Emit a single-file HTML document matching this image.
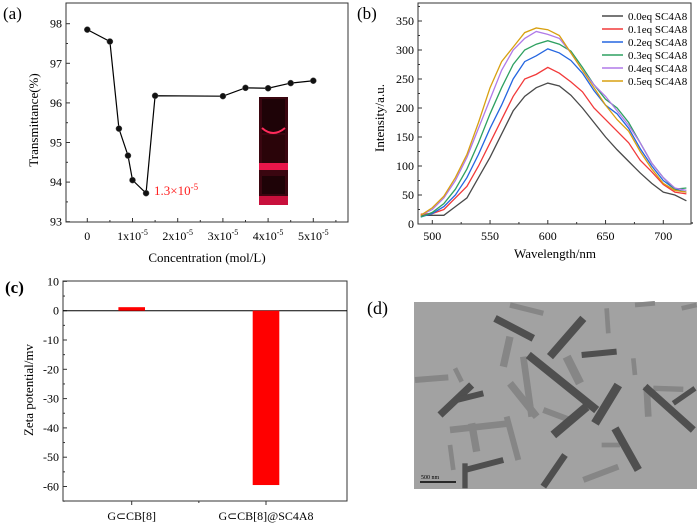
<!DOCTYPE html>
<html><head><meta charset="utf-8"><style>
body{margin:0;background:#fff;}
svg{display:block;font-family:"Liberation Serif",serif;}
</style></head><body>
<svg width="700" height="530" viewBox="0 0 700 530">
<g id="pa"></g>
<g id="pb"></g>
<g id="pc"></g>
<g id="pd">
  <text x="367" y="314" font-size="18">(d)</text>
  <rect x="414" y="302" width="283" height="187" fill="#a2a2a2"/>
  <g transform="translate(400,270) scale(0.3333)" stroke-linecap="butt" fill="none">
    <g stroke="#868686">
      <line x1="330" y1="105" x2="430" y2="130" stroke-width="16"/>
      <line x1="45" y1="330" x2="145" y2="322" stroke-width="18"/>
      <line x1="150" y1="480" x2="330" y2="460" stroke-width="20"/>
      <line x1="320" y1="440" x2="355" y2="570" stroke-width="18"/>
      <line x1="215" y1="460" x2="230" y2="545" stroke-width="22"/>
      <line x1="330" y1="200" x2="310" y2="290" stroke-width="22"/>
      <line x1="330" y1="340" x2="410" y2="440" stroke-width="22"/>
      <line x1="430" y1="420" x2="510" y2="450" stroke-width="18"/>
      <line x1="500" y1="260" x2="540" y2="340" stroke-width="26"/>
      <line x1="620" y1="115" x2="625" y2="190" stroke-width="14"/>
      <line x1="700" y1="265" x2="705" y2="315" stroke-width="14"/>
      <line x1="740" y1="350" x2="745" y2="440" stroke-width="20"/>
      <line x1="150" y1="525" x2="160" y2="600" stroke-width="14"/>
      <line x1="550" y1="630" x2="655" y2="590" stroke-width="18"/>
      <line x1="605" y1="525" x2="660" y2="525" stroke-width="14"/>
      <line x1="705" y1="105" x2="765" y2="100" stroke-width="14"/>
      <line x1="845" y1="115" x2="890" y2="105" stroke-width="14"/>
      <line x1="760" y1="355" x2="850" y2="358" stroke-width="16"/>
      <line x1="165" y1="295" x2="185" y2="335" stroke-width="14"/>
      <line x1="370" y1="260" x2="395" y2="440" stroke-width="20"/>
    </g>
    <g stroke="#4f4f4f">
      <line x1="285" y1="145" x2="400" y2="205" stroke-width="22"/>
      <line x1="450" y1="260" x2="550" y2="145" stroke-width="24"/>
      <line x1="120" y1="435" x2="215" y2="345" stroke-width="22"/>
      <line x1="460" y1="495" x2="560" y2="410" stroke-width="26"/>
      <line x1="585" y1="460" x2="655" y2="345" stroke-width="26"/>
      <line x1="385" y1="255" x2="590" y2="420" stroke-width="24"/>
      <line x1="645" y1="475" x2="715" y2="600" stroke-width="24"/>
      <line x1="430" y1="650" x2="495" y2="555" stroke-width="20"/>
      <line x1="735" y1="350" x2="880" y2="480" stroke-width="22"/>
      <line x1="195" y1="600" x2="310" y2="570" stroke-width="18"/>
      <line x1="195" y1="580" x2="195" y2="655" stroke-width="16"/>
      <line x1="545" y1="255" x2="650" y2="245" stroke-width="18"/>
      <line x1="170" y1="390" x2="250" y2="370" stroke-width="18"/>
      <line x1="820" y1="400" x2="885" y2="355" stroke-width="16"/>
    </g>
  </g>
  <line x1="420" y1="482" x2="456" y2="482" stroke="#000" stroke-width="1.5"/>
  <text x="421" y="479" font-size="6">500 nm</text>
</g>
</svg>
<script>
const NS='http://www.w3.org/2000/svg';
function mk(parent,tag,attrs,txt){const e=document.createElementNS(NS,tag);for(const k in attrs)e.setAttribute(k,attrs[k]);if(txt!==undefined)e.textContent=txt;parent.appendChild(e);return e;}

// ---------- Panel A data ----------
const concA=[0,0.5,0.7,0.9,1.0,1.3,1.5,3.0,3.5,4.0,4.5,5.0];
const transA=[97.85,97.55,95.35,94.67,94.05,93.72,96.18,96.17,96.38,96.37,96.5,96.56];
const yTicksA=[93,94,95,96,97,98];
const xTicksA=[0,1,2,3,4,5];

// ---------- Panel B data ----------
const wavelengths=[490,500,510,520,530,540,550,560,570,580,590,600,610,620,630,640,650,660,670,680,690,700,710,720];
const s00=[15,15,15,30,45,80,115,155,195,220,235,243,238,222,200,175,150,128,108,88,70,55,50,40];
const s01=[17,18,25,45,65,100,140,180,220,250,258,270,260,245,228,200,180,160,140,110,90,68,55,52];
const s02=[12,18,30,50,80,120,165,205,250,280,290,302,295,282,260,230,205,190,165,130,100,75,60,55];
const s03=[12,20,35,60,95,140,190,235,275,300,310,316,310,298,270,240,215,200,175,140,105,80,60,62];
const s04=[15,25,45,75,115,165,215,265,300,320,332,327,320,295,265,240,220,195,170,140,105,80,62,58];
const s05=[15,28,48,80,120,175,235,280,305,330,338,335,325,295,265,235,205,180,160,125,95,70,58,55];
const seriesNames=["0.0eq SC4A8","0.1eq SC4A8","0.2eq SC4A8","0.3eq SC4A8","0.4eq SC4A8","0.5eq SC4A8"];
const yTicksB=[0,50,100,150,200,250,300,350];
const xTicksB=[500,550,600,650,700];

// ---------- Panel C data ----------
const categoriesC=["G\u2282CB[8]","G\u2282CB[8]@SC4A8"];
const zetaC=[1.2,-59.5];
const yTicksC=[10,0,-10,-20,-30,-40,-50,-60];

// ===== Panel A =====
(function(){
 const g=document.getElementById('pa');
 const L=66,R=348,T=3,B=222;
 const x=v=>87.3+v*45.2, y=v=>221.7-(v-93)*39.6;
 mk(g,'rect',{x:L,y:T,width:R-L,height:B-T,fill:'none',stroke:'#333','stroke-width':1,});
 yTicksA.forEach(t=>{mk(g,'line',{x1:L,x2:L+4,y1:y(t),y2:y(t),stroke:'#333'});
  const e=mk(g,'text',{x:L-4,y:y(t)+4,'font-size':12,'text-anchor':'end'},String(t));
  if(t<98){mk(g,'line',{x1:L,x2:L+2,y1:y(t+0.5),y2:y(t+0.5),stroke:'#333'});}});
 xTicksA.forEach(t=>{mk(g,'line',{x1:x(t),x2:x(t),y1:B,y2:B-4,stroke:'#333'});
  mk(g,'line',{x1:x(t+0.5),x2:x(t+0.5),y1:B,y2:B-2,stroke:'#333'});
  const e=mk(g,'text',{x:x(t),y:240,'font-size':12,'text-anchor':'middle'});
  
  if(t===0)e.textContent='0';else{e.textContent=t+'x10';mk(e,'tspan',{dy:-5,'font-size':8},'-5');}});
 mk(g,'text',{x:207,y:262,'font-size':13,'text-anchor':'middle',},'Concentration (mol/L)');
 mk(g,'text',{x:0,y:0,'font-size':13,'text-anchor':'middle',transform:'translate(38,120) rotate(-90)',},'Transmittance(%)');
 mk(g,'text',{x:3,y:19,'font-size':17,},'(a)');
 const ins=mk(g,'g',{});
 mk(ins,'rect',{x:259,y:97,width:29,height:108,fill:'#3a0610'});
 mk(ins,'rect',{x:262,y:99,width:23,height:34,fill:'#1e0307'});
 mk(ins,'path',{d:'M262 128 Q273 138 285 128',stroke:'#ff2a5a','stroke-width':2,fill:'none'});
 mk(ins,'rect',{x:262,y:135,width:23,height:28,fill:'#2a0409'});
 mk(ins,'rect',{x:259,y:163,width:29,height:7,fill:'#e8164a'});
 mk(ins,'rect',{x:262,y:176,width:23,height:18,fill:'#1e0307'});
 mk(ins,'rect',{x:259,y:196,width:29,height:9,fill:'#c8103c'});
 const pts=concA.map((c,i)=>x(c)+','+y(transA[i])).join(' ');
 mk(g,'polyline',{points:pts,fill:'none',stroke:'#000','stroke-width':1.2,});
 concA.forEach((c,i)=>{const p=mk(g,'circle',{cx:x(c),cy:y(transA[i]),r:3,fill:'#111',stroke:'#555','stroke-width':0.5});
  });
 const ann=mk(g,'text',{x:154,y:195,'font-size':13,fill:'#ff2020',},'1.3\u00d710');
 mk(ann,'tspan',{dy:-5,'font-size':9},'-5');
})();

// ===== Panel B =====
(function(){
 const g=document.getElementById('pb');
 const L=418,R=691,T=3,B=224;
 const x=v=>432.3+(v-500)*1.155, y=v=>224-v*0.58;
 mk(g,'rect',{x:L,y:T,width:R-L,height:B-T,fill:'none',stroke:'#333',});
 yTicksB.forEach(t=>{mk(g,'line',{x1:L,x2:L+4,y1:y(t),y2:y(t),stroke:'#333'});
  mk(g,'line',{x1:L,x2:L+2,y1:y(t+25),y2:y(t+25),stroke:'#333'});
  const e=mk(g,'text',{x:L-4,y:y(t)+4,'font-size':12,'text-anchor':'end'},String(t));});
 xTicksB.forEach(t=>{mk(g,'line',{x1:x(t),x2:x(t),y1:B,y2:B-4,stroke:'#333'});
  mk(g,'line',{x1:x(t+25),x2:x(t+25),y1:B,y2:B-2,stroke:'#333'});
  const e=mk(g,'text',{x:x(t),y:240,'font-size':12,'text-anchor':'middle'},String(t));});
 mk(g,'text',{x:555,y:258,'font-size':13,'text-anchor':'middle',},'Wavelength/nm');
 mk(g,'text',{x:0,y:0,'font-size':13,'text-anchor':'middle',transform:'translate(384,118) rotate(-90)',},'Intensity/a.u.');
 mk(g,'text',{x:357,y:19,'font-size':17,},'(b)');
 const all=[s00,s01,s02,s03,s04,s05], cols=['#4a4a4a','#f23a3a','#2566e0','#2ea060','#b07ae8','#d8a010'];
 all.forEach((s,k)=>{const pts=wavelengths.map((w,i)=>x(w)+','+y(s[i])).join(' ');
  const p=mk(g,'polyline',{points:pts,fill:'none',stroke:cols[k],'stroke-width':1.3});
  
  const ly=16+k*13;
  const le=mk(g,'g',{});
  mk(le,'line',{x1:602,x2:623,y1:ly,y2:ly,stroke:cols[k],'stroke-width':1.5});
  mk(le,'text',{x:628,y:ly+4,'font-size':11},seriesNames[k]);});
})();

// ===== Panel C =====
(function(){
 const g=document.getElementById('pc');
 const L=63,R=347,T=281,B=501;
 const x=c=>131.7+c*134.3, y=v=>310.7-v*2.93;
 mk(g,'rect',{x:L,y:T,width:R-L,height:B-T,fill:'none',stroke:'#333',});
 yTicksC.forEach(t=>{mk(g,'line',{x1:L,x2:L+4,y1:y(t),y2:y(t),stroke:'#333'});
  mk(g,'line',{x1:L,x2:L+2,y1:y(t-5),y2:y(t-5),stroke:'#333'});
  const e=mk(g,'text',{x:L-4,y:y(t)+4,'font-size':12,'text-anchor':'end'},String(t));});
 mk(g,'line',{x1:L,x2:R,y1:y(0),y2:y(0),stroke:'#000','stroke-width':1,});
 categoriesC.forEach((c,i)=>{const v=zetaC[i];
  const r=mk(g,'rect',{x:x(i)-13.3,y:Math.min(y(v),y(0)),width:26.6,height:Math.abs(y(v)-y(0)),fill:'#ff0000'});
  
  mk(g,'line',{x1:x(i),x2:x(i),y1:B,y2:B+4,stroke:'#333'});
  const e=mk(g,'text',{x:x(i),y:520,'font-size':12,'text-anchor':'middle'},c);});
 mk(g,'line',{x1:x(0.5),x2:x(0.5),y1:B,y2:B+2,stroke:'#333'});
 mk(g,'text',{x:0,y:0,'font-size':13,'text-anchor':'middle',transform:'translate(33,390) rotate(-90)',},'Zeta potential/mv');
 mk(g,'text',{x:5,y:293,'font-size':17,'font-weight':'bold',},'(c)');
})();
</script>
</body></html>
